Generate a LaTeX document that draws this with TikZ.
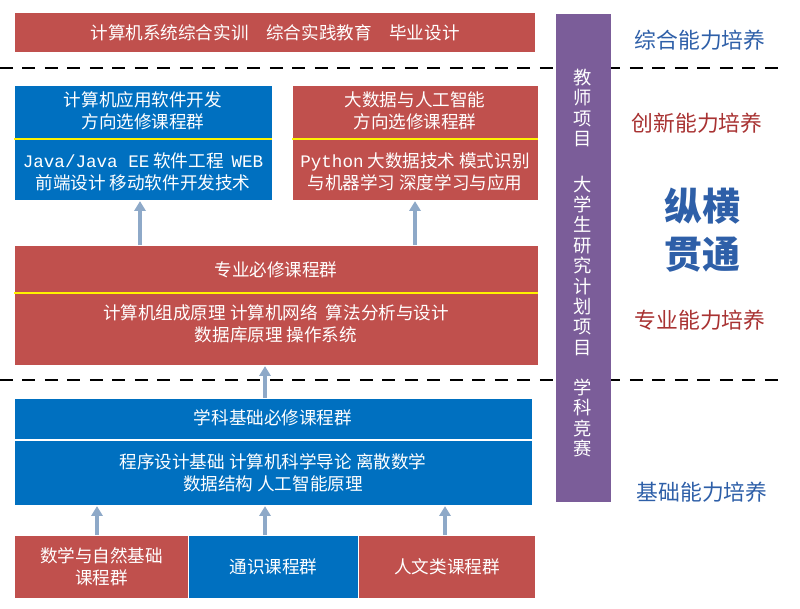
\documentclass[tikz,border=0pt]{standalone}
\usepackage{fontspec}
\setmainfont{Noto Sans CJK SC}
\setmonofont{Liberation Mono}
\usetikzlibrary{positioning,arrows.meta}
\definecolor{boxred}{HTML}{C0504D}
\definecolor{boxblue}{HTML}{0070C0}
\definecolor{barpurple}{HTML}{7B5D99}
\definecolor{upblue}{HTML}{8EA9C8}
\definecolor{txtblue}{HTML}{2E5FA8}
\definecolor{txtred}{HTML}{A83232}
\tikzset{
  redbox/.style={rectangle, fill=boxred, draw=white, line width=0.8pt, text=white, align=center, font=\fontsize{12.5}{15.5}\selectfont},
  bluebox/.style={redbox, fill=boxblue},
  label/.style={text=white, align=center, font=\fontsize{12.5}{15.5}\selectfont},
  sep/.style={yellow, line width=1.5pt},
  uparrow/.style={-{Triangle[length=7pt,width=8pt]}, upblue, line width=2.2pt},
  level/.style={font=\fontsize{15.5}{18}\selectfont},
  layer/.style={dashed, dash pattern=on 9pt off 7pt, line width=1.2pt}
}
\begin{document}
\begin{tikzpicture}[x=0.025cm, y=-0.025cm]
  \useasboundingbox (0,0) rectangle (800,608);
  % Layer lines
  \draw[layer] (0,68) -- (785,68);
  \draw[layer] (0,380) -- (785,380);
  % Top course box
  \node (top) [redbox, minimum width=521*0.025cm, minimum height=40*0.025cm, anchor=north west] at (14,12) {计算机系统综合实训\quad 综合实践教育\quad 毕业设计};
  % Elective groups
  \node (appsw) [bluebox, minimum width=258*0.025cm, minimum height=115*0.025cm, anchor=north west] at (14,85) {};
  \node (bigdata) [redbox, minimum width=246*0.025cm, minimum height=115*0.025cm, anchor=north west] at (292,85) {};
  \node (appsw-t) [label] at (143,111) {计算机应用软件开发\\方向选修课程群};
  \node (appsw-b) [label] at (143,172) {\texttt{Java/Java EE} 软件工程\ \ \texttt{WEB}\\前端设计 移动软件开发技术};
  \node (bigdata-t) [label] at (415,111) {大数据与人工智能\\方向选修课程群};
  \node (bigdata-b) [label] at (415,172) {\texttt{Python} 大数据技术 模式识别\\与机器学习 深度学习与应用};
  \draw[sep] (14,139) -- (272,139);
  \draw[sep] (292,139) -- (538,139);
  % Major required
  \node (major) [redbox, minimum width=524*0.025cm, minimum height=120*0.025cm, anchor=north west] at (14,245) {};
  \node (major-t) [label] at (276,270) {专业必修课程群};
  \node (major-b) [label] at (276,324) {计算机组成原理 计算机网络\ \ 算法分析与设计\\数据库原理 操作系统};
  \draw[sep] (14,293) -- (538,293);
  % Basic required
  \node (basic) [bluebox, minimum width=518*0.025cm, minimum height=107*0.025cm, anchor=north west] at (14,398) {};
  \node (basic-t) [label] at (273,418) {学科基础必修课程群};
  \node (basic-b) [label] at (273,473) {程序设计基础 计算机科学导论 离散数学\\数据结构 人工智能原理};
  \draw[white, line width=1.5pt] (14,440) -- (532,440);
  % Bottom groups
  \node (math) [redbox, minimum width=174*0.025cm, minimum height=63*0.025cm, anchor=north west] at (14,535) {数学与自然基础\\课程群};
  \node (general) [bluebox, minimum width=170*0.025cm, minimum height=63*0.025cm, anchor=north west] at (188,535) {通识课程群};
  \node (human) [redbox, minimum width=177*0.025cm, minimum height=63*0.025cm, anchor=north west] at (358,535) {人文类课程群};
  % Arrows
  \draw[uparrow] (math.north -| 97,0) -- (basic.south -| 97,0);
  \draw[uparrow] (general.north -| 265,0) -- (basic.south -| 265,0);
  \draw[uparrow] (human.north -| 445,0) -- (basic.south -| 445,0);
  \draw[uparrow] (basic.north -| 265,0) -- (major.south -| 265,0);
  \draw[uparrow] (major.north -| 140,0) -- (appsw.south -| 140,0);
  \draw[uparrow] (major.north -| 415,0) -- (bigdata.south -| 415,0);
  % Project bar
  \node (bar) [rectangle, fill=barpurple, minimum width=55*0.025cm, minimum height=488*0.025cm, anchor=north west] at (556,14) {};
  \node (proj) [text=white, align=center, font=\fontsize{13}{14.5}\selectfont, anchor=north] at (583,64) {教\\师\\项\\目\\[18pt]大\\学\\生\\研\\究\\计\\划\\项\\目\\[14pt]学\\科\\竞\\赛};
  % Levels
  \node (lv1) [level, text=txtblue] at (700,40) {综合能力培养};
  \node (lv2) [level, text=txtred] at (697,123) {创新能力培养};
  \node (lv3) [font=\fontsize{27}{34}\selectfont\bfseries, text=txtblue, align=center] at (702,230) {纵横\\贯通};
  \node (lv4) [level, text=txtred] at (700,320) {专业能力培养};
  \node (lv5) [level, text=txtblue] at (702,492) {基础能力培养};
\end{tikzpicture}
\end{document}
